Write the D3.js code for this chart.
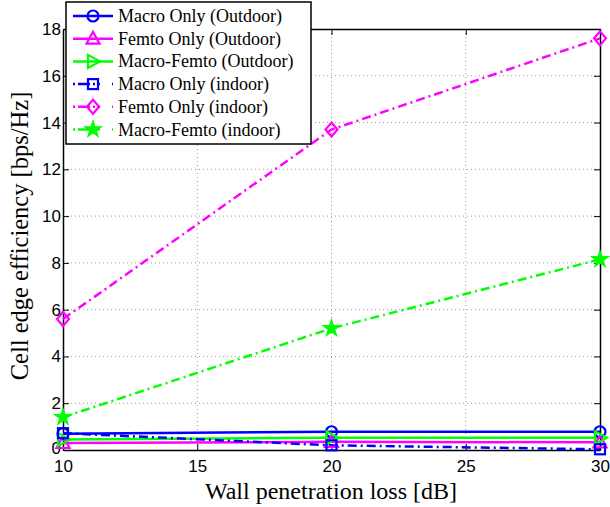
<!DOCTYPE html>
<html>
<head>
<meta charset="UTF-8">
<style>
  body { margin: 0; background: #fff; }
  svg { display: block; }
</style>
</head>
<body>
<svg></svg>
<script src="https://d3js.org/d3.v7.min.js"></script>
<script>
// data
let xs = [10, 20, 30];
let macroOut = [0.7, 0.78, 0.78];
let femtoOut = [0.3, 0.35, 0.33];
let mfOut = [0.45, 0.52, 0.52];
let macroIn = [0.72, 0.2, 0.03];
let femtoIn = [5.6, 13.7, 17.6];
let mfIn = [1.4, 5.2, 8.15];
let xTicks = [10, 15, 20, 25, 30];
let yTicks = [0, 2, 4, 6, 8, 10, 12, 14, 16, 18];

let series = [
  {name: "Macro Only (Outdoor)", vals: macroOut, color: "#0000ff", dash: null, mark: "circle"},
  {name: "Femto Only (Outdoor)", vals: femtoOut, color: "#ff00ff", dash: null, mark: "triangle"},
  {name: "Macro-Femto (Outdoor)", vals: mfOut, color: "#00ff00", dash: null, mark: "right"},
  {name: "Macro Only (indoor)", vals: macroIn, color: "#0000ff", dash: "9,4,2,4", mark: "square"},
  {name: "Femto Only (indoor)", vals: femtoIn, color: "#ff00ff", dash: "9,4,2,4", mark: "diamond"},
  {name: "Macro-Femto (indoor)", vals: mfIn, color: "#00ff00", dash: "9,4,2,4", mark: "star"}
];

let width = 610, height = 507;
let mLeft = 63, mRight = 600, mTop = 29, mBottom = 450;

let svg = d3.select("svg").attr("width", width).attr("height", height);

let x = d3.scaleLinear().domain([10, 30]).range([mLeft, mRight]);
let y = d3.scaleLinear().domain([0, 18]).range([mBottom, mTop]);

// grid
let grid = svg.append("g").attr("stroke", "#999").attr("stroke-width", 1).attr("stroke-dasharray", "1,3");
grid.selectAll("line.gx").data(xTicks.slice(1, -1)).enter().append("line")
  .attr("x1", d => x(d)).attr("x2", d => x(d)).attr("y1", mTop).attr("y2", mBottom);
grid.selectAll("line.gy").data(yTicks.slice(1, -1)).enter().append("line")
  .attr("y1", d => y(d)).attr("y2", d => y(d)).attr("x1", mLeft).attr("x2", mRight);

// axes (ticks inward, box)
let xAxis = svg.append("g").attr("transform", "translate(0," + mBottom + ")")
  .call(d3.axisBottom(x).tickValues(xTicks).tickSize(-6).tickPadding(10).tickSizeOuter(0));
let xTop = svg.append("g").attr("transform", "translate(0," + mTop + ")")
  .call(d3.axisTop(x).tickValues(xTicks).tickSize(-6).tickFormat("").tickSizeOuter(0));
let yAxis = svg.append("g").attr("transform", "translate(" + mLeft + ",0)")
  .call(d3.axisLeft(y).tickValues(yTicks).tickSize(-6).tickPadding(8).tickSizeOuter(0));
let yRight = svg.append("g").attr("transform", "translate(" + mRight + ",0)")
  .call(d3.axisRight(y).tickValues(yTicks).tickSize(-6).tickFormat("").tickSizeOuter(0));

svg.selectAll(".domain").attr("stroke", "#000").attr("stroke-width", 1.5);
svg.selectAll(".tick line").attr("stroke", "#000").attr("stroke-width", 1);
svg.selectAll(".tick text").attr("fill", "#000")
  .style("font-family", "'Liberation Sans', Arial, sans-serif").style("font-size", "17px");
yAxis.selectAll(".tick text").attr("dx", "6px");
yAxis.selectAll(".tick").filter(d => d === 0).select("text").attr("dy", "0.2em");

// lines
let line = d3.line().x((d, i) => x(xs[i])).y(d => y(d));

let plot = svg.append("g");
series.forEach(s => {
  plot.append("path")
    .datum(s.vals)
    .attr("fill", "none")
    .attr("stroke", s.color)
    .attr("stroke-width", 2.5)
    .attr("stroke-dasharray", s.dash)
    .attr("d", line);
});

function drawMarker(g, type, cx, cy, color) {
  let sym;
  if (type === "circle") {
    g.append("circle").attr("cx", cx).attr("cy", cy).attr("r", 5.5)
      .attr("fill", "none").attr("stroke", color).attr("stroke-width", 2.2);
    return;
  }
  if (type === "square") {
    g.append("rect").attr("x", cx - 5).attr("y", cy - 5).attr("width", 10).attr("height", 10)
      .attr("fill", "none").attr("stroke", color).attr("stroke-width", 2.2);
    return;
  }
  if (type === "triangle") sym = "M0,-7L6.5,5L-6.5,5Z";
  if (type === "right") sym = "M7,0L-5,-6.5L-5,6.5Z";
  if (type === "diamond") sym = "M0,-7L6,0L0,7L-6,0Z";
  if (type === "star") {
    g.append("path").attr("transform", "translate(" + cx + "," + cy + ")")
      .attr("d", d3.symbol().type(d3.symbolStar).size(85)())
      .attr("fill", color).attr("stroke", color).attr("stroke-width", 1.2);
    return;
  }
  g.append("path").attr("transform", "translate(" + cx + "," + cy + ")")
    .attr("d", sym).attr("fill", "none").attr("stroke", color).attr("stroke-width", 2.2);
}

series.forEach(s => {
  s.vals.forEach((v, i) => drawMarker(plot, s.mark, x(xs[i]), y(v), s.color));
});

// axis labels
let serif = "'Liberation Serif', 'Times New Roman', serif";
svg.append("text")
  .attr("x", 331).attr("y", 499)
  .attr("text-anchor", "middle")
  .style("font-family", serif)
  .style("font-size", "24px")
  .text("Wall penetration loss [dB]");
svg.append("text")
  .attr("transform", "translate(28,236) rotate(-90)")
  .attr("text-anchor", "middle")
  .style("font-family", serif)
  .style("font-size", "24.5px")
  .text("Cell edge efficiency [bps/Hz]");

// legend
let lg = svg.append("g");
lg.append("rect").attr("x", 66).attr("y", 2).attr("width", 245).attr("height", 142)
  .attr("fill", "#fff").attr("stroke", "#000").attr("stroke-width", 1.5);
series.forEach((s, i) => {
  let ly = 16 + i * 22.7;
  lg.append("line").attr("x1", 73).attr("x2", 113).attr("y1", ly).attr("y2", ly)
    .attr("stroke", s.color).attr("stroke-width", 2.5).attr("stroke-dasharray", s.dash ? "2,3,12,3,2" : null);
  drawMarker(lg, s.mark, 93, ly, s.color);
  lg.append("text").attr("x", 118).attr("y", ly + 6)
    .style("font-family", serif)
    .style("font-size", "18px")
    .text(s.name);
});
</script>
</body>
</html>
